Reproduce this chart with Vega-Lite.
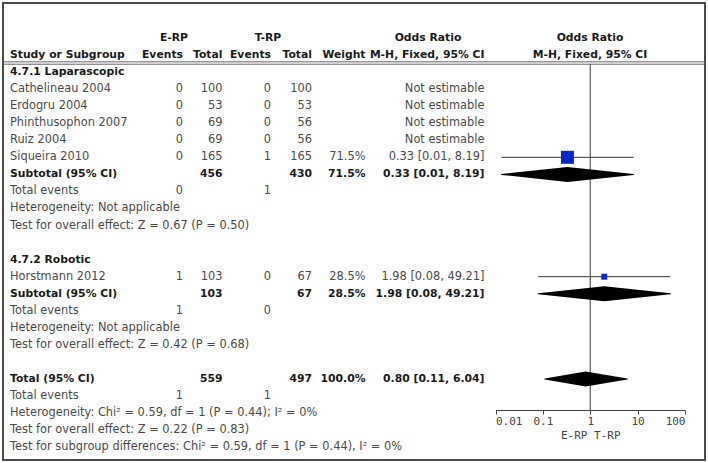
{
  "$schema": "https://vega.github.io/schema/vega-lite/v6.json",
  "width": 702,
  "height": 457,
  "padding": 3,
  "autosize": {"type": "none"},
  "background": "white",
  "config": {"view": {"stroke": "#4a4a4a", "strokeWidth": 2}, "font": "DejaVu Sans"},
  "datasets": {
    "cells": [
      {"r": -2, "c": 7, "t": "E-RP", "k": "head"},
      {"r": -2, "c": 8, "t": "T-RP", "k": "head"},
      {"r": -2, "c": 9, "t": "Odds Ratio", "k": "head"},
      {"r": -2, "c": 10, "t": "Odds Ratio", "k": "head"},
      {"r": -1, "c": 0, "t": "Study or Subgroup", "k": "head"},
      {"r": -1, "c": 1, "t": "Events", "k": "head"},
      {"r": -1, "c": 2, "t": "Total", "k": "head"},
      {"r": -1, "c": 3, "t": "Events", "k": "head"},
      {"r": -1, "c": 4, "t": "Total", "k": "head"},
      {"r": -1, "c": 5, "t": "Weight", "k": "head"},
      {"r": -1, "c": 6, "t": "M-H, Fixed, 95% CI", "k": "head"},
      {"r": -1, "c": 10, "t": "M-H, Fixed, 95% CI", "k": "head"},
      {"r": 0, "c": 0, "t": "4.7.1 Laparascopic", "k": "group"},
      {"r": 1, "c": 0, "t": "Cathelineau 2004", "k": "study"},
      {"r": 1, "c": 1, "t": "0", "k": "study"},
      {"r": 1, "c": 2, "t": "100", "k": "study"},
      {"r": 1, "c": 3, "t": "0", "k": "study"},
      {"r": 1, "c": 4, "t": "100", "k": "study"},
      {"r": 1, "c": 6, "t": "Not estimable", "k": "study"},
      {"r": 2, "c": 0, "t": "Erdogru 2004", "k": "study"},
      {"r": 2, "c": 1, "t": "0", "k": "study"},
      {"r": 2, "c": 2, "t": "53", "k": "study"},
      {"r": 2, "c": 3, "t": "0", "k": "study"},
      {"r": 2, "c": 4, "t": "53", "k": "study"},
      {"r": 2, "c": 6, "t": "Not estimable", "k": "study"},
      {"r": 3, "c": 0, "t": "Phinthusophon 2007", "k": "study"},
      {"r": 3, "c": 1, "t": "0", "k": "study"},
      {"r": 3, "c": 2, "t": "69", "k": "study"},
      {"r": 3, "c": 3, "t": "0", "k": "study"},
      {"r": 3, "c": 4, "t": "56", "k": "study"},
      {"r": 3, "c": 6, "t": "Not estimable", "k": "study"},
      {"r": 4, "c": 0, "t": "Ruiz 2004", "k": "study"},
      {"r": 4, "c": 1, "t": "0", "k": "study"},
      {"r": 4, "c": 2, "t": "69", "k": "study"},
      {"r": 4, "c": 3, "t": "0", "k": "study"},
      {"r": 4, "c": 4, "t": "56", "k": "study"},
      {"r": 4, "c": 6, "t": "Not estimable", "k": "study"},
      {"r": 5, "c": 0, "t": "Siqueira 2010", "k": "study"},
      {"r": 5, "c": 1, "t": "0", "k": "study"},
      {"r": 5, "c": 2, "t": "165", "k": "study"},
      {"r": 5, "c": 3, "t": "1", "k": "study"},
      {"r": 5, "c": 4, "t": "165", "k": "study"},
      {"r": 5, "c": 5, "t": "71.5%", "k": "study"},
      {"r": 5, "c": 6, "t": "0.33 [0.01, 8.19]", "k": "study"},
      {"r": 6, "c": 0, "t": "Subtotal (95% CI)", "k": "sub"},
      {"r": 6, "c": 2, "t": "456", "k": "sub"},
      {"r": 6, "c": 4, "t": "430", "k": "sub"},
      {"r": 6, "c": 5, "t": "71.5%", "k": "sub"},
      {"r": 6, "c": 6, "t": "0.33 [0.01, 8.19]", "k": "sub"},
      {"r": 7, "c": 0, "t": "Total events", "k": "stat"},
      {"r": 7, "c": 1, "t": "0", "k": "stat"},
      {"r": 7, "c": 3, "t": "1", "k": "stat"},
      {"r": 8, "c": 0, "t": "Heterogeneity: Not applicable", "k": "stat"},
      {"r": 9, "c": 0, "t": "Test for overall effect: Z = 0.67 (P = 0.50)", "k": "stat"},
      {"r": 11, "c": 0, "t": "4.7.2 Robotic", "k": "group"},
      {"r": 12, "c": 0, "t": "Horstmann 2012", "k": "study"},
      {"r": 12, "c": 1, "t": "1", "k": "study"},
      {"r": 12, "c": 2, "t": "103", "k": "study"},
      {"r": 12, "c": 3, "t": "0", "k": "study"},
      {"r": 12, "c": 4, "t": "67", "k": "study"},
      {"r": 12, "c": 5, "t": "28.5%", "k": "study"},
      {"r": 12, "c": 6, "t": "1.98 [0.08, 49.21]", "k": "study"},
      {"r": 13, "c": 0, "t": "Subtotal (95% CI)", "k": "sub"},
      {"r": 13, "c": 2, "t": "103", "k": "sub"},
      {"r": 13, "c": 4, "t": "67", "k": "sub"},
      {"r": 13, "c": 5, "t": "28.5%", "k": "sub"},
      {"r": 13, "c": 6, "t": "1.98 [0.08, 49.21]", "k": "sub"},
      {"r": 14, "c": 0, "t": "Total events", "k": "stat"},
      {"r": 14, "c": 1, "t": "1", "k": "stat"},
      {"r": 14, "c": 3, "t": "0", "k": "stat"},
      {"r": 15, "c": 0, "t": "Heterogeneity: Not applicable", "k": "stat"},
      {"r": 16, "c": 0, "t": "Test for overall effect: Z = 0.42 (P = 0.68)", "k": "stat"},
      {"r": 18, "c": 0, "t": "Total (95% CI)", "k": "sub"},
      {"r": 18, "c": 2, "t": "559", "k": "sub"},
      {"r": 18, "c": 4, "t": "497", "k": "sub"},
      {"r": 18, "c": 5, "t": "100.0%", "k": "sub"},
      {"r": 18, "c": 6, "t": "0.80 [0.11, 6.04]", "k": "sub"},
      {"r": 19, "c": 0, "t": "Total events", "k": "stat"},
      {"r": 19, "c": 1, "t": "1", "k": "stat"},
      {"r": 19, "c": 3, "t": "1", "k": "stat"},
      {"r": 20, "c": 0, "t": "Heterogeneity: Chi² = 0.59, df = 1 (P = 0.44); I² = 0%", "k": "stat"},
      {"r": 21, "c": 0, "t": "Test for overall effect: Z = 0.22 (P = 0.83)", "k": "stat"},
      {"r": 22, "c": 0, "t": "Test for subgroup differences: Chi² = 0.59, df = 1 (P = 0.44), I² = 0%", "k": "stat"}
    ],
    "studies": [
      {"r": 5, "study": "Siqueira 2010", "or": 0.33, "lo": 0.0134, "hi": 8.19, "w": 71.5},
      {"r": 12, "study": "Horstmann 2012", "or": 1.98, "lo": 0.08, "hi": 49.21, "w": 28.5}
    ],
    "diamonds": [
      {"r": 6, "v": 0.0134, "est_pt": 0},
      {"r": 6, "v": 0.33, "est_pt": 1},
      {"r": 6, "v": 8.19, "est_pt": 0},
      {"r": 13, "v": 0.08, "est_pt": 0},
      {"r": 13, "v": 1.98, "est_pt": 1},
      {"r": 13, "v": 49.21, "est_pt": 0},
      {"r": 18, "v": 0.11, "est_pt": 0},
      {"r": 18, "v": 0.80, "est_pt": 1},
      {"r": 18, "v": 6.04, "est_pt": 0}
    ]
  },
  "layer": [
    {
      "data": {"name": "cells"},
      "mark": {
        "type": "text",
        "baseline": "middle",
        "align": {"expr": "datum.c == 0 ? 'left' : (datum.c >= 7 ? 'center' : 'right')"},
        "fontSize": {"expr": "(datum.k == 'head' || datum.k == 'group' || datum.k == 'sub') ? 10.8 : 11.4"},
        "fontWeight": {"expr": "(datum.k == 'head' || datum.k == 'group' || datum.k == 'sub') ? 'bold' : 'normal'"},
        "fill": {"expr": "(datum.k == 'head' || datum.k == 'group' || datum.k == 'sub') ? '#1a1a1a' : '#4a4a4a'"}
      },
      "encoding": {
        "x": {"field": "c", "type": "quantitative", "axis": null,
              "scale": {"domain": [0, 1, 2, 3, 4, 5, 6, 7, 8, 9, 10], "range": [7, 180, 219.5, 268, 309, 362.5, 481.5, 171, 265, 425, 587], "zero": false, "nice": false}},
        "y": {"field": "r", "type": "quantitative", "axis": null,
              "scale": {"domain": [-4.05, 22.75], "reverse": true, "zero": false, "nice": false}},
        "text": {"field": "t"}
      }
    },
    {
      "layer": [
        {
          "data": {"values": [{}]},
          "mark": {"type": "rule", "color": "#666", "strokeWidth": 1},
          "encoding": {
            "y": {"datum": -0.6, "type": "quantitative", "axis": null,
                  "scale": {"domain": [-4.05, 22.75], "reverse": true, "zero": false, "nice": false}}
          }
        },
        {
          "data": {"values": [{}]},
          "mark": {"type": "rule", "color": "#666", "strokeWidth": 1},
          "encoding": {
            "y": {"datum": -0.46, "type": "quantitative", "axis": null,
                  "scale": {"domain": [-4.05, 22.75], "reverse": true, "zero": false, "nice": false}}
          }
        },
        {
          "data": {"name": "studies"},
          "mark": {"type": "rule", "color": "#333", "strokeWidth": 1},
          "encoding": {
            "x": {"field": "lo", "type": "quantitative",
                  "scale": {"type": "log", "domain": [0.01, 100], "range": [492.5, 682], "nice": false},
                  "axis": {"orient": "bottom", "offset": -50, "values": [0.01, 0.1, 1, 10, 100], "format": "~g", "grid": false,
                           "tickSize": 4, "tickColor": "#444", "domainColor": "#444", "labelFont": "DejaVu Sans Mono", "labelFontSize": 11,
                           "labelColor": "#444", "labelPadding": 1, "title": "E-RP   T-RP", "titleFont": "DejaVu Sans Mono",
                           "titleFontSize": 11, "titleFontWeight": "normal", "titleColor": "#444", "titlePadding": 3}},
            "x2": {"field": "hi"},
            "y": {"field": "r", "type": "quantitative", "axis": null,
                  "scale": {"domain": [-4.05, 22.75], "reverse": true, "zero": false, "nice": false}}
          }
        },
        {
          "data": {"values": [{}]},
          "mark": {"type": "rule", "color": "#555", "strokeWidth": 1.2},
          "encoding": {
            "x": {"datum": 1, "type": "quantitative"},
            "y": {"datum": -0.46, "type": "quantitative", "axis": null,
                  "scale": {"domain": [-4.05, 22.75], "reverse": true, "zero": false, "nice": false}},
            "y2": {"datum": 19.82}
          }
        },
        {
          "data": {"name": "studies"},
          "mark": {"type": "point", "shape": "square", "filled": true, "color": "#0a28c8", "opacity": 1},
          "encoding": {
            "x": {"field": "or", "type": "quantitative"},
            "y": {"field": "r", "type": "quantitative", "axis": null,
                  "scale": {"domain": [-4.05, 22.75], "reverse": true, "zero": false, "nice": false}},
            "size": {"field": "w", "type": "quantitative", "legend": null,
                     "scale": {"domain": [28.5, 71.5], "range": [36, 169], "zero": false}}
          }
        },
        {
          "data": {"name": "diamonds"},
          "mark": {"type": "trail", "color": "black"},
          "encoding": {
            "x": {"field": "v", "type": "quantitative"},
            "y": {"field": "r", "type": "quantitative", "axis": null,
                  "scale": {"domain": [-4.05, 22.75], "reverse": true, "zero": false, "nice": false}},
            "detail": {"field": "r", "type": "nominal"},
            "size": {"field": "est_pt", "type": "quantitative", "legend": null,
                     "scale": {"domain": [0, 1], "range": [0, 15], "zero": false}}
          }
        }
      ],
      "resolve": {"scale": {"size": "independent"}}
    }
  ],
  "resolve": {"scale": {"x": "independent"}, "axis": {"x": "independent"}}
}
